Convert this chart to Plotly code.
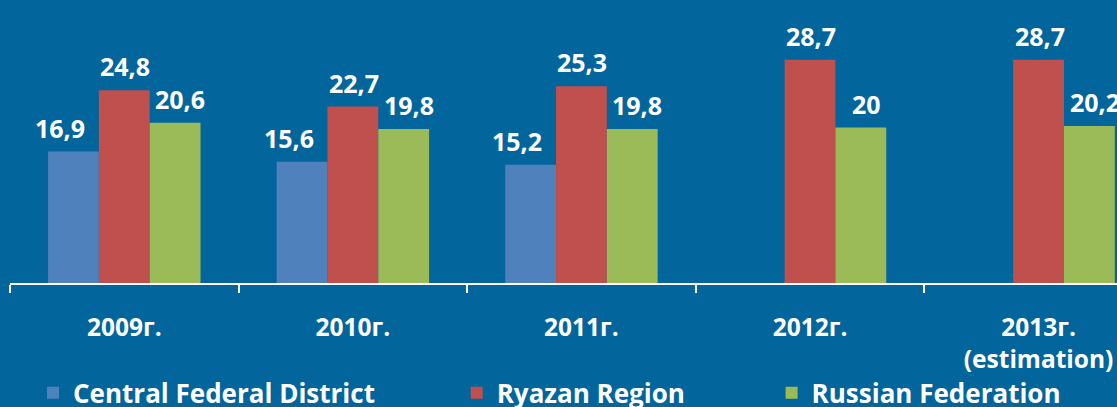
import plotly.graph_objects as go

categories = ["2009г.", "2010г.", "2011г.", "2012г.", "2013г.<br>(estimation)"]
central = [16.9, 15.6, 15.2, None, None]
ryazan = [24.8, 22.7, 25.3, 28.7, 28.7]
russia = [20.6, 19.8, 19.8, 20.0, 20.2]
series_names = ["Central Federal District", "Ryazan Region", "Russian Federation"]
colors = ["#4f81bd", "#c0504d", "#9bbb59"]
BG = "#02659b"
FONT = "Open Sans"


def fmt(v):
    s = ("%.1f" % v).rstrip("0").rstrip(".")
    return s.replace(".", ",")


fig = go.Figure()
legend_ids = ["legend", "legend2", "legend3"]
all_series = [central, ryazan, russia]
for vals, name, col, lg in zip(all_series, series_names, colors, legend_ids):
    fig.add_trace(go.Bar(
        x=categories, y=vals, name=name, legend=lg,
        marker=dict(color=col, line=dict(width=0)),
    ))

# value labels above each bar (pixel offsets relative to the bar's slot in the group)
label_xshift = [-64, 1, 56]
for si, vals in enumerate(all_series):
    for c, v in zip(categories, vals):
        if v is None:
            continue
        fig.add_annotation(
            x=c, y=v, xref="x", yref="y", text=fmt(v), showarrow=False,
            xanchor="center", yanchor="bottom", xshift=label_xshift[si], yshift=5,
            font=dict(family=FONT, size=25, color="white", weight="bold"),
        )

legend_x = [0.0208, 0.4035, 0.688]
leg_common = dict(orientation="h", yanchor="middle", y=-0.388,
                  xanchor="left", bgcolor="rgba(0,0,0,0)", borderwidth=0,
                  font=dict(family=FONT, size=26, color="white", weight="bold"))
layout_legends = {}
for lg, lx in zip(legend_ids, legend_x):
    layout_legends[lg] = dict(x=lx, **leg_common)

fig.update_layout(
    width=1117, height=407,
    paper_bgcolor=BG, plot_bgcolor=BG,
    margin=dict(l=10, r=0, t=0, b=124, autoexpand=False),
    barmode="group", bargap=0.333, bargroupgap=0,
    showlegend=True,
    xaxis=dict(type="category", range=[-0.5, 4.343], showline=True, linecolor="white",
               linewidth=2, ticks="outside", tickson="boundaries", ticklen=8, tickwidth=2,
               tickcolor="white", showgrid=False, zeroline=False, ticklabelstandoff=22,
               tickfont=dict(family=FONT, size=24.5, color="white", weight="bold")),
    yaxis=dict(range=[0, 36.4], visible=False, showgrid=False, zeroline=False),
    **layout_legends,
)

fig.write_html("out.html")
